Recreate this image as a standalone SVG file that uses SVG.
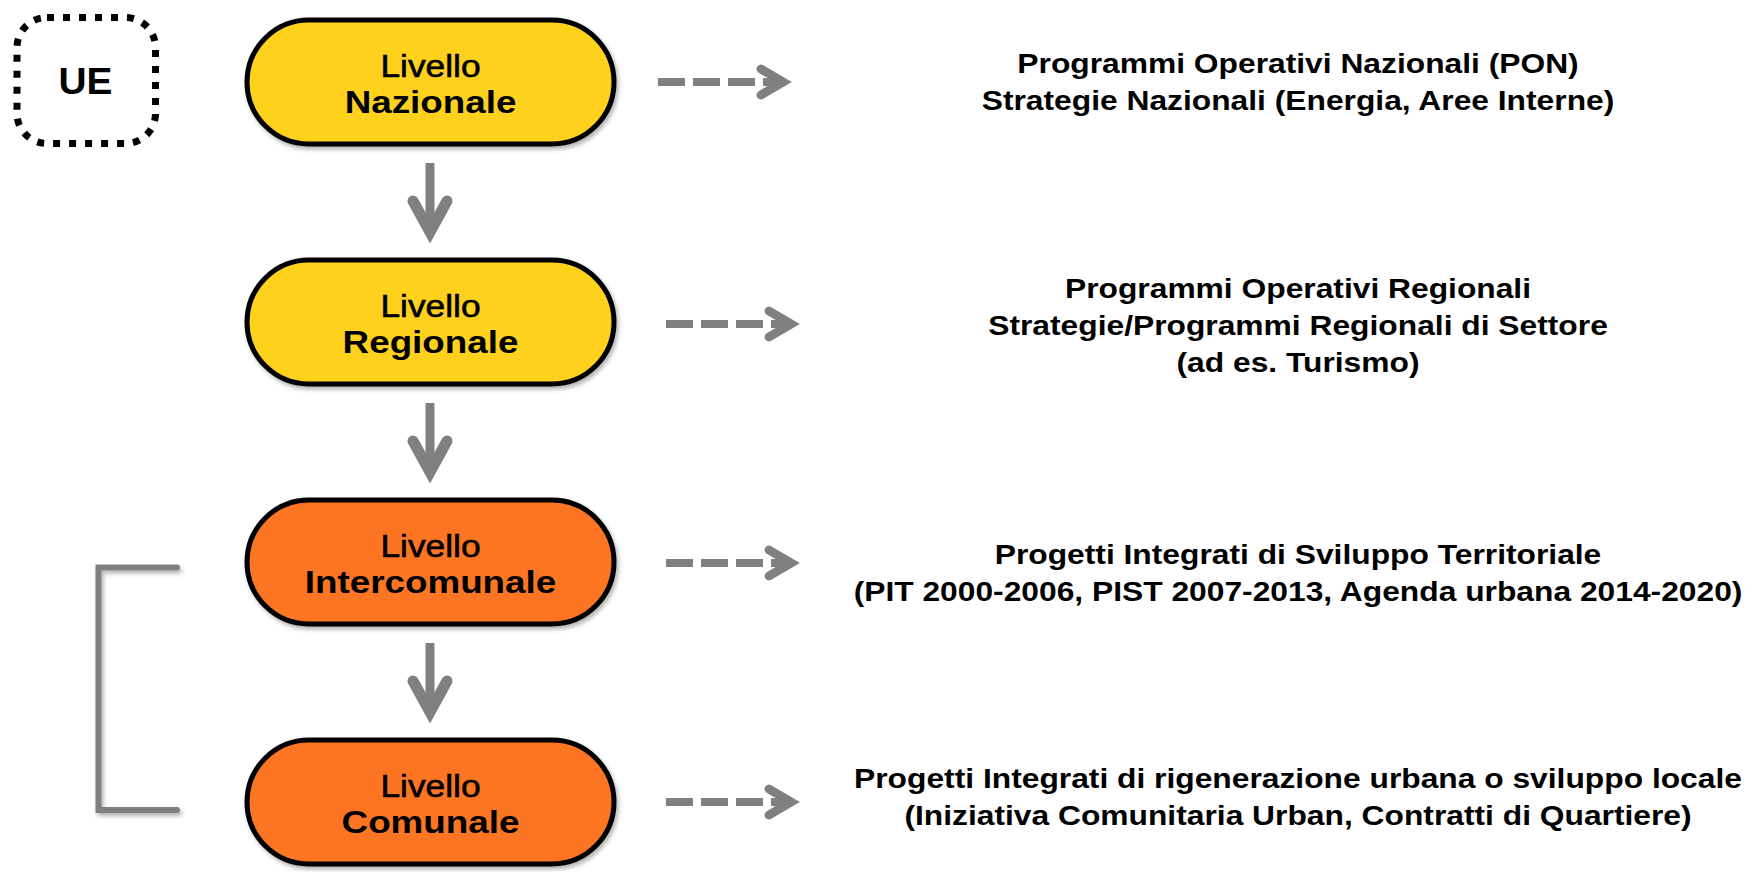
<svg xmlns="http://www.w3.org/2000/svg" width="1758" height="872" viewBox="0 0 1758 872">
  <defs>
    <filter id="sh" x="-20%" y="-20%" width="140%" height="140%">
      <feDropShadow dx="2" dy="3" stdDeviation="2" flood-color="#000" flood-opacity="0.3"/>
    </filter>
  </defs>
  <style>
    .node { stroke: #000; stroke-width: 5; }
    .yel { fill: #FDD11A; }
    .ora { fill: #FC7520; }
    .lv { font-family: "Liberation Sans", Arial, sans-serif; font-size: 31px; fill: #000; stroke: #000; stroke-width: 0.6; text-anchor: middle; }
    .lb { font-family: "Liberation Sans", Arial, sans-serif; font-size: 32px; font-weight: bold; fill: #000; text-anchor: middle; }
    .ue { font-family: "Liberation Sans", Arial, sans-serif; font-size: 37px; font-weight: bold; fill: #000; text-anchor: middle; }
    .rt { font-family: "Liberation Sans", Arial, sans-serif; font-size: 28px; font-weight: bold; fill: #000; text-anchor: middle; }
    .dash { stroke: #808080; stroke-width: 8; stroke-dasharray: 27 8; fill: none; }
    .chev { stroke: #808080; stroke-width: 9; fill: none; stroke-linecap: round; stroke-linejoin: miter; }
    .vshaft { stroke: #808080; stroke-width: 9; fill: none; }
    .vchev { stroke: #808080; stroke-width: 11; fill: none; stroke-linecap: round; stroke-linejoin: miter; }
  </style>

  <g id="ue">
    <rect x="17" y="17.5" width="138.5" height="126" rx="30" fill="none" stroke="#000" stroke-width="7" stroke-dasharray="7 9"/>
    <text class="ue" transform="translate(85.5,94) scale(1.05,1)">UE</text>
  </g>

  <g id="nazionale">
    <rect class="node yel" x="247" y="20" width="367" height="124" rx="62" filter="url(#sh)"/>
    <text class="lv" transform="translate(430.5,77) scale(1.14,1)">Livello</text>
    <text class="lb" transform="translate(430.5,113) scale(1.15,1)">Nazionale</text>
  </g>
  <g id="regionale">
    <rect class="node yel" x="247" y="260" width="367" height="124" rx="62" filter="url(#sh)"/>
    <text class="lv" transform="translate(430.5,317) scale(1.14,1)">Livello</text>
    <text class="lb" transform="translate(430.5,353) scale(1.15,1)">Regionale</text>
  </g>
  <g id="intercomunale">
    <rect class="node ora" x="247" y="500" width="367" height="124" rx="62" filter="url(#sh)"/>
    <text class="lv" transform="translate(430.5,557) scale(1.14,1)">Livello</text>
    <text class="lb" transform="translate(430.5,593) scale(1.15,1)">Intercomunale</text>
  </g>
  <g id="comunale">
    <rect class="node ora" x="247" y="740" width="367" height="124" rx="62" filter="url(#sh)"/>
    <text class="lv" transform="translate(430.5,797) scale(1.14,1)">Livello</text>
    <text class="lb" transform="translate(430.5,833) scale(1.15,1)">Comunale</text>
  </g>

  <g id="txt-nazionale">
    <text class="rt" transform="translate(1298,73) scale(1.135,1)">Programmi Operativi Nazionali (PON)</text>
    <text class="rt" transform="translate(1298,110) scale(1.135,1)">Strategie Nazionali (Energia, Aree Interne)</text>
  </g>
  <g id="txt-regionale">
    <text class="rt" transform="translate(1298,298) scale(1.135,1)">Programmi Operativi Regionali</text>
    <text class="rt" transform="translate(1298,335) scale(1.135,1)">Strategie/Programmi Regionali di Settore</text>
    <text class="rt" transform="translate(1298,372) scale(1.135,1)">(ad es. Turismo)</text>
  </g>
  <g id="txt-intercomunale">
    <text class="rt" transform="translate(1298,564) scale(1.135,1)">Progetti Integrati di Sviluppo Territoriale</text>
    <text class="rt" transform="translate(1298,601) scale(1.135,1)">(PIT 2000-2006, PIST 2007-2013, Agenda urbana 2014-2020)</text>
  </g>
  <g id="txt-comunale">
    <text class="rt" transform="translate(1298,788) scale(1.135,1)">Progetti Integrati di rigenerazione urbana o sviluppo locale</text>
    <text class="rt" transform="translate(1298,825) scale(1.135,1)">(Iniziativa Comunitaria Urban, Contratti di Quartiere)</text>
  </g>

  <g id="connectors">
    <line class="vshaft" x1="430" y1="163" x2="430" y2="232"/>
    <path class="vchev" d="M413 201 L430 232 L447 201"/>
    <line class="vshaft" x1="430" y1="403" x2="430" y2="472"/>
    <path class="vchev" d="M413 441 L430 472 L447 441"/>
    <line class="vshaft" x1="430" y1="643" x2="430" y2="712"/>
    <path class="vchev" d="M413 681 L430 712 L447 681"/>

    <line class="dash" x1="658" y1="82" x2="782" y2="82"/>
    <path class="chev" d="M761 69 L783 82 L761 95"/>
    <line class="dash" x1="666" y1="324" x2="790" y2="324"/>
    <path class="chev" d="M769 311 L791 324 L769 337"/>
    <line class="dash" x1="666" y1="563" x2="790" y2="563"/>
    <path class="chev" d="M769 550 L791 563 L769 576"/>
    <line class="dash" x1="666" y1="802" x2="790" y2="802"/>
    <path class="chev" d="M769 789 L791 802 L769 815"/>

    <path d="M177 567.5 H98.5 V810 H177" fill="none" stroke="#808080" stroke-width="6" stroke-linecap="round" stroke-linejoin="miter" filter="url(#sh)"/>
  </g>
</svg>
